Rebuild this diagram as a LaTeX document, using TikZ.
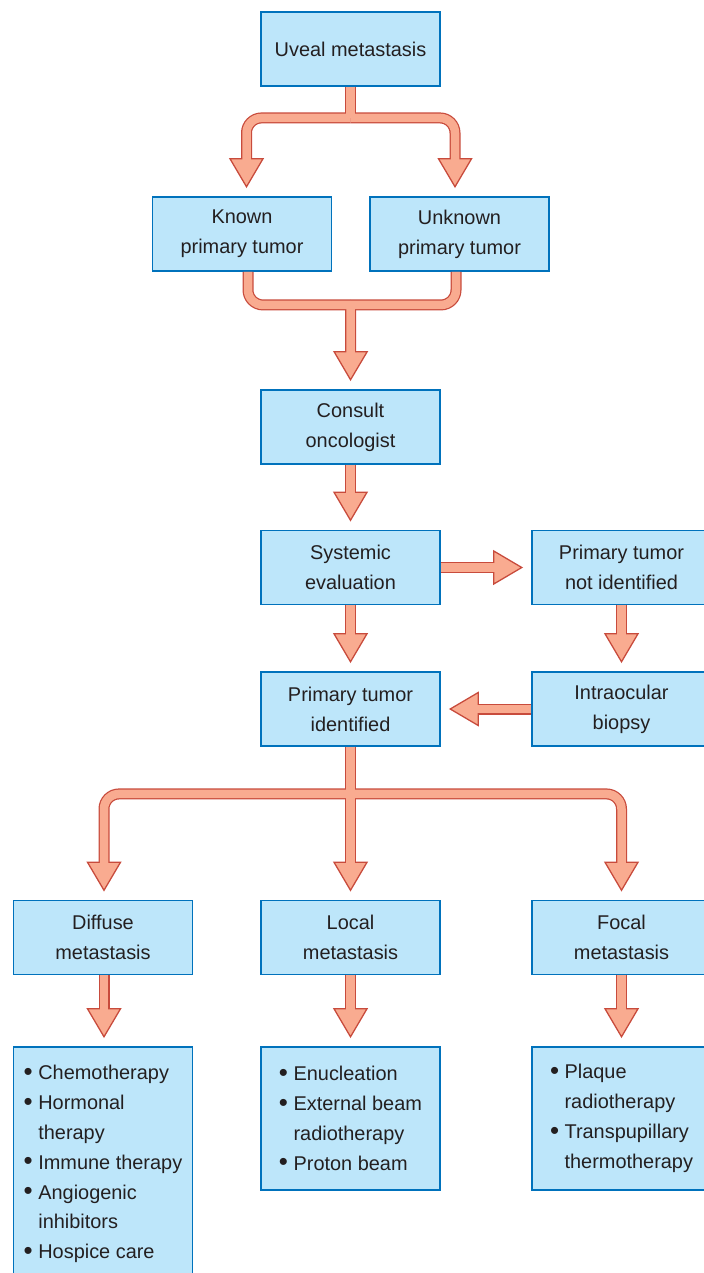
\documentclass[tikz,border=0pt]{standalone}
\usepackage{fontspec}
\setmainfont{Liberation Sans}
\usetikzlibrary{arrows.meta,calc}
\definecolor{boxfill}{HTML}{BDE6FA}
\definecolor{boxedge}{HTML}{0072BC}
\definecolor{arrowbody}{HTML}{F9AB90}
\definecolor{arrowedge}{HTML}{C84B3C}
\definecolor{ink}{HTML}{231F20}
\newcommand{\bigbullet}{\raisebox{-0.6pt}{\scalebox{1.3}{\textbullet}}\ }
\newcommand{\contline}{\phantom{\bigbullet}}

\begin{document}
\begin{tikzpicture}[
  x=0.03cm, y=-0.03cm,
  box/.style={draw=boxedge, fill=boxfill, line width=1.6pt, align=center, minimum width=5.37cm, minimum height=2.22cm, inner sep=4pt, text=ink, font=\fontsize{17}{25.5}\selectfont},
  listbox/.style={box, align=left},
  fat edge/.style={draw=arrowedge, line width=0.33cm, rounded corners=0.45cm},
  fat body/.style={draw=arrowbody, line width=0.255cm, rounded corners=0.45cm},
  tip edge/.style={-{Triangle[length=0.9cm, width=1.05cm, line width'=1.1pt, fill=arrowbody]}, shorten >=0.24cm},
  tip body/.style={shorten >=1.08cm},
  fat/.code={\ifnum#1=1\relax\tikzset{fat edge}\else\tikzset{fat body}\fi},
  tip/.code={\ifnum#1=1\relax\tikzset{tip edge}\else\tikzset{tip body}\fi}
]
\useasboundingbox (0,0) rectangle (703,1273);

\node[box] (uveal) at (350.5,49) {Uveal metastasis};
\node[box] (known) at (242,234) {Known\\primary tumor};
\node[box] (unknown) at (459.5,234) {Unknown\\primary tumor};
\node[box] (consult) at (350.5,427) {Consult\\oncologist};
\node[box] (systemic) at (350.5,567.5) {Systemic\\evaluation};
\node[box] (notid) at (621.5,567.5) {Primary tumor\\not identified};
\node[box] (identified) at (350.5,709) {Primary tumor\\identified};
\node[box] (biopsy) at (621.5,709) {Intraocular\\biopsy};
\node[box] (diffuse) at (103,937.5) {Diffuse\\metastasis};
\node[box] (local) at (350.5,937.5) {Local\\metastasis};
\node[box] (focal) at (621.5,937.5) {Focal\\metastasis};

% treatment lists
\node[listbox, minimum height=7.02cm] (difflist) at (103,1164) {\bigbullet Chemotherapy\\\bigbullet Hormonal\\\contline therapy\\\bigbullet Immune therapy\\\bigbullet Angiogenic\\\contline inhibitors\\\bigbullet Hospice care};
\node[listbox, minimum height=4.29cm] (loclist) at (350.5,1118.5) {\bigbullet Enucleation\\\bigbullet External beam\\\contline radiotherapy\\\bigbullet Proton beam};
\node[listbox, minimum height=4.29cm] (foclist) at (621.5,1118.5) {\bigbullet Plaque\\\contline radiotherapy\\\bigbullet Transpupillary\\\contline thermotherapy};

\coordinate (split) at ($(uveal.south)+(0,31)$);
\coordinate (merge) at ($(known.south)!0.5!(unknown.south)+(0,33)$);
\coordinate (fan) at ($(identified.south)+(0,47)$);

% pass 1 = outlines, pass 2 = fills
\foreach \pass in {1,2} {
  \draw[fat=\pass] (uveal.south) -- (split);
  \draw[fat=\pass, tip=\pass] (split) -| ($(known.north)+(4.5,0)$);
  \draw[fat=\pass, tip=\pass] (split) -| ($(unknown.north)+(-4.5,0)$);
  \draw[fat=\pass] ($(known.south)+(6,0)$) |- (merge);
  \draw[fat=\pass] ($(unknown.south)+(-3.5,0)$) |- (merge);
  \draw[fat=\pass, tip=\pass] (merge) -- (consult.north);
  \draw[fat=\pass, tip=\pass] (consult) -- (systemic);
  \draw[fat=\pass, tip=\pass] (systemic) -- (notid);
  \draw[fat=\pass, tip=\pass] (notid) -- (biopsy);
  \draw[fat=\pass, tip=\pass] (systemic) -- (identified);
  \draw[fat=\pass, tip=\pass] (biopsy) -- (identified);
  \draw[fat=\pass] (identified.south) -- (fan);
  \draw[fat=\pass, tip=\pass] (fan) -| ($(diffuse.north)+(1,0)$);
  \draw[fat=\pass, tip=\pass] (fan) -| (focal.north);
  \draw[fat=\pass, tip=\pass] (identified) -- (local);
  \draw[fat=\pass, tip=\pass] ($(diffuse.south)+(1,0)$) -- ($(difflist.north)+(1,0)$);
  \draw[fat=\pass, tip=\pass] (local) -- (loclist);
  \draw[fat=\pass, tip=\pass] (focal) -- (foclist);
}
\end{tikzpicture}
\end{document}
